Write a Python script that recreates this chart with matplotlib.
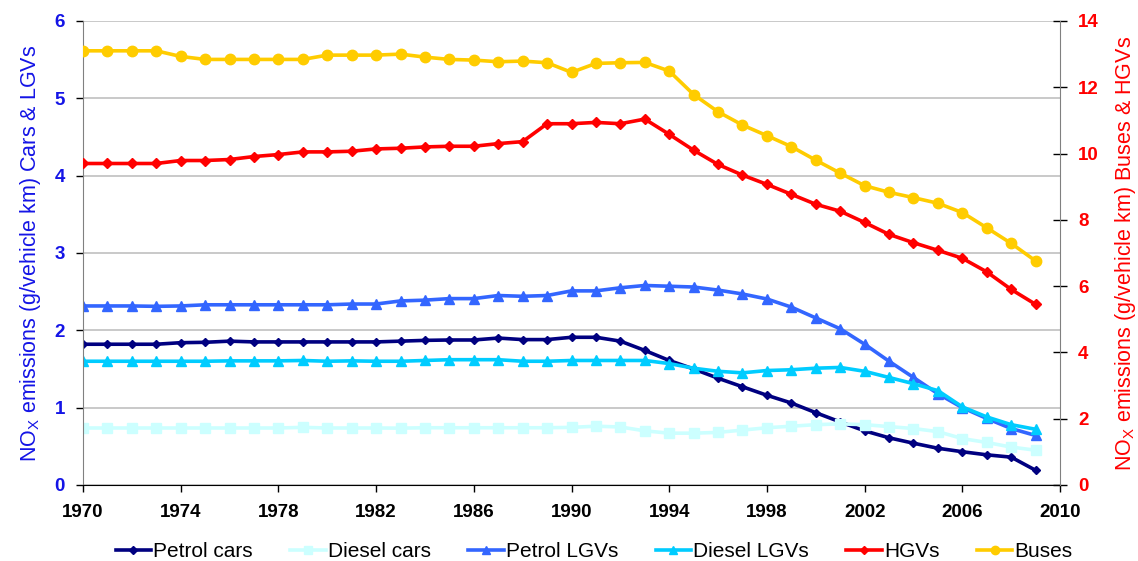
import matplotlib
matplotlib.use("Agg")
import matplotlib.pyplot as plt
from matplotlib.ticker import MultipleLocator

plt.rcParams['font.family'] = ['Liberation Sans', 'DejaVu Sans']
plt.rcParams['mathtext.fontset'] = 'custom'
plt.rcParams['mathtext.rm'] = 'Liberation Sans'
plt.rcParams['mathtext.it'] = 'Liberation Sans'

years = list(range(1970, 2010))

petrol_cars = [1.82, 1.82, 1.82, 1.82, 1.84, 1.845, 1.86, 1.85, 1.85, 1.85,
               1.85, 1.85, 1.85, 1.86, 1.87, 1.875, 1.875, 1.90, 1.88, 1.88,
               1.91, 1.91, 1.86, 1.74, 1.61, 1.50, 1.38, 1.27, 1.16, 1.06,
               0.935, 0.815, 0.70, 0.61, 0.54, 0.475, 0.43, 0.39, 0.36, 0.19]
diesel_cars = [0.737, 0.737, 0.737, 0.737, 0.737, 0.737, 0.737, 0.737, 0.737, 0.745,
               0.737, 0.737, 0.737, 0.735, 0.74, 0.74, 0.74, 0.74, 0.74, 0.74,
               0.745, 0.76, 0.75, 0.70, 0.67, 0.67, 0.68, 0.71, 0.74, 0.76,
               0.78, 0.79, 0.78, 0.755, 0.73, 0.69, 0.60, 0.55, 0.49, 0.45]
petrol_lgvs = [2.315, 2.315, 2.315, 2.31, 2.315, 2.33, 2.33, 2.33, 2.33, 2.33,
               2.33, 2.34, 2.34, 2.38, 2.39, 2.41, 2.41, 2.45, 2.44, 2.45,
               2.51, 2.51, 2.55, 2.58, 2.57, 2.56, 2.52, 2.47, 2.405, 2.30,
               2.16, 2.02, 1.82, 1.60, 1.39, 1.18, 1.00, 0.86, 0.73, 0.64]
diesel_lgvs = [1.60, 1.60, 1.60, 1.60, 1.60, 1.60, 1.605, 1.605, 1.605, 1.61,
               1.60, 1.605, 1.60, 1.60, 1.61, 1.62, 1.62, 1.62, 1.60, 1.60,
               1.61, 1.61, 1.61, 1.61, 1.57, 1.51, 1.47, 1.45, 1.48, 1.49,
               1.51, 1.52, 1.47, 1.39, 1.31, 1.22, 1.01, 0.88, 0.78, 0.72]
hgvs = [9.70, 9.70, 9.70, 9.70, 9.79, 9.79, 9.82, 9.91, 9.97, 10.05,
        10.05, 10.07, 10.14, 10.16, 10.20, 10.22, 10.22, 10.30, 10.36, 10.90,
        10.90, 10.94, 10.90, 11.04, 10.58, 10.10, 9.67, 9.35, 9.07, 8.77,
        8.47, 8.26, 7.92, 7.56, 7.31, 7.08, 6.84, 6.43, 5.90, 5.45]
buses = [13.10, 13.10, 13.10, 13.10, 12.93, 12.84, 12.84, 12.84, 12.84, 12.84,
         12.97, 12.97, 12.97, 13.00, 12.91, 12.84, 12.82, 12.77, 12.79, 12.74,
         12.45, 12.72, 12.74, 12.75, 12.49, 11.78, 11.26, 10.86, 10.54, 10.21,
         9.80, 9.41, 9.03, 8.83, 8.67, 8.50, 8.22, 7.76, 7.29, 6.76]

xticks = list(range(1970, 2011, 4))

fig = plt.figure(figsize=(11.38, 5.61), dpi=100)
ax = fig.add_axes([0.0729, 0.1355, 0.8586, 0.8271])
ax2 = ax.twinx()

lw = 2.6
h1, = ax.plot(years, petrol_cars, color='#000080', lw=lw, marker='D', ms=4.5,
              label='Petrol cars')
h2, = ax.plot(years, diesel_cars, color='#CCFFFF', lw=lw, marker='s', ms=7,
              label='Diesel cars')
h3, = ax.plot(years, petrol_lgvs, color='#3366FF', lw=lw, marker='^', ms=7.5,
              label='Petrol LGVs')
h4, = ax.plot(years, diesel_lgvs, color='#00CCFF', lw=lw, marker='^', ms=7.5,
              label='Diesel LGVs')
h5, = ax2.plot(years, hgvs, color='#FF0000', lw=lw, marker='D', ms=5,
               label='HGVs')
h6, = ax2.plot(years, buses, color='#FFCC00', lw=lw, marker='o', ms=7.5,
               label='Buses')

ax.set_xlim(1970, 2010)
ax.set_ylim(0, 6)
ax2.set_ylim(0, 14)
ax.set_xticks(xticks)
ax.yaxis.set_major_locator(MultipleLocator(1))
ax2.yaxis.set_major_locator(MultipleLocator(2))

ax.grid(axis='y', color='#BBBBBB', lw=1.1)
ax.set_axisbelow(True)

for a in (ax, ax2):
    a.spines['top'].set_visible(False)
ax.spines['left'].set_color('#808080')
ax.spines['right'].set_visible(False)
ax2.spines['left'].set_visible(False)
ax2.spines['right'].set_color('#808080')
ax.spines['bottom'].set_color('black')
ax2.spines['bottom'].set_visible(False)

ax.tick_params(axis='x', direction='out', length=5, width=1, pad=9,
               labelsize=13.5, colors='black')
ax.tick_params(axis='y', direction='out', length=5, width=1, pad=8,
               labelsize=13.5, labelcolor='#1414E6')
ax2.tick_params(axis='y', direction='inout', length=10, width=1, pad=8,
                labelsize=13.5, labelcolor='#FF0000')
for lab in ax.get_xticklabels() + ax.get_yticklabels() + ax2.get_yticklabels():
    lab.set_fontweight('bold')

ax.set_ylabel('NO$_\\mathrm{X}$ emissions (g/vehicle km) Cars & LGVs',
              color='#1414E6', fontsize=15.5, labelpad=8)
ax2.set_ylabel('NO$_\\mathrm{X}$ emissions (g/vehicle km) Buses & HGVs',
               color='#FF0000', fontsize=15.5, labelpad=10)

fig.legend(handles=[h1, h2, h3, h4, h5, h6], loc='center', ncol=6,
           bbox_to_anchor=(0.522, 0.017), frameon=False, fontsize=15,
           handlelength=1.7, handletextpad=0.1, columnspacing=1.8,
           markerscale=0.8)

fig.savefig('out.png', dpi=100)
